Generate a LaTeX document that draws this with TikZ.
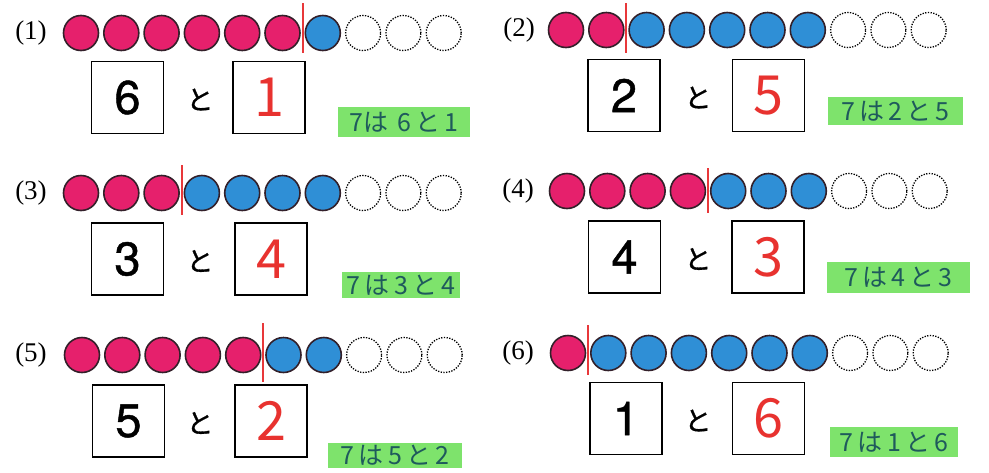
\documentclass[tikz,border=0pt]{standalone}
\usepackage{fontspec}
\setmainfont{Liberation Serif}
\newfontfamily\jpfont{Noto Sans CJK JP}
\newfontfamily\jpbold[FakeBold=1.2]{Noto Sans CJK JP}
\newfontfamily\boxdigits[FakeBold=1.0]{TeX Gyre Heros}

\definecolor{beadpink}{HTML}{E6206C}
\definecolor{beadblue}{HTML}{2F8FD6}
\definecolor{beadline}{HTML}{33202A}
\definecolor{cutred}{HTML}{E8383A}
\definecolor{answerred}{HTML}{E8322F}
\definecolor{marker}{HTML}{7EE36C}
\definecolor{inkteal}{HTML}{1F5A5C}

\begin{document}
\begin{tikzpicture}[x=1pt,y=-1pt,
  beadbase/.style={circle, inner sep=0pt, minimum size=35pt},
  pinkbead/.style={beadbase, draw=beadline, line width=1.6pt, fill=beadpink},
  bluebead/.style={beadbase, draw=beadline, line width=1.6pt, fill=beadblue},
  emptybead/.style={beadbase, draw=black, line width=1.3pt, dash pattern=on 1.3pt off 1.4pt},
  cutline/.style={draw=cutred, line width=2pt},
  answerbox/.style={draw=black, line width=1.5pt, minimum width=72pt, minimum height=72pt, inner sep=0pt},
  givennum/.style={font=\boxdigits\fontsize{47}{47}\selectfont, text=black},
  answernum/.style={font=\jpfont\fontsize{54}{54}\selectfont, text=answerred},
  tojoin/.style={font=\jpbold\fontsize{27}{27}\selectfont},
  qlabel/.style={font=\fontsize{27}{27}\selectfont},
  notebox/.style={fill=marker, inner sep=0pt, text=inkteal, font=\jpfont\fontsize{25}{25}\selectfont}
]
\useasboundingbox (0,0) rectangle (989,472);
\fill[white] (0,0) rectangle (989,472);

% one exercise per entry:
% id / label x / bead row y / first bead x / pink count / given / answer /
% box1 x / box2 x / box y / "to" x / note x / note y / note w / note h / note / cut above / cut below
\foreach \n/\lx/\ry/\cx/\np/\ga/\gb/\bxa/\bxb/\by/\tx/\gx/\gy/\gw/\gh/\note/\dt/\db in {
  1/31/33/81/6/6/1/127.5/269/97.5/200/404/122/132/30/{7は\,\,6\,と\,1}/30/20,
  2/519/30/566/2/2/5/624/768.5/95.5/698/895.5/111/135/28/{7\,は\,2\,と\,5}/27/23,
  3/31/193/81/3/3/4/127.5/271/259/200/401/285/118/26/{7\,は\,3\,と\,4}/28/22,
  4/518/191/567/4/4/3/624.5/768/257/698/898.5/277.5/143/31/{7\,は\,4\,と\,3}/23/22,
  5/31/355/82/5/5/2/128.5/271/421/200/395/455.5/134/25/{7\,は\,5\,と\,2}/32/27,
  6/518/353/568/1/1/6/626/768.5/418.5/698/894/442/128/30/{7\,は\,1\,と\,6}/28/22}
{
  \node[qlabel] (label-\n) at (\lx,\ry) {(\n)};
  % ten beads: pink, then blue up to seven, then empty
  \foreach \i in {1,...,10} {
    \ifnum\i>7
      \node[emptybead] (bead-\n-\i) at ({\cx+40.3*(\i-1)},\ry) {};
    \else\ifnum\i>\np
      \node[bluebead] (bead-\n-\i) at ({\cx+40.3*(\i-1)},\ry) {};
    \else
      \node[pinkbead] (bead-\n-\i) at ({\cx+40.3*(\i-1)},\ry) {};
    \fi\fi
  }
  % red cut mark between the pink and blue beads
  \coordinate (cuttop-\n) at ({\cx+40.3*(\np-0.5)},{\ry-\dt});
  \coordinate (cutbot-\n) at ({\cx+40.3*(\np-0.5)},{\ry+\db});
  \draw[cutline] (cuttop-\n) -- (cutbot-\n);
  % the two boxes
  \node[answerbox] (given-\n) at (\bxa,\by) {};
  \node[givennum] at (given-\n.center) {\ga};
  \node[tojoin] (to-\n) at (\tx,{\by+2}) {と};
  \node[answerbox] (answer-\n) at (\bxb,\by) {};
  \node[answernum] at (answer-\n.center) {\gb};
  % highlighted note
  \node[notebox, minimum width=\gw pt, minimum height=\gh pt] (note-\n) at (\gx,\gy) {\note};
}
\end{tikzpicture}
\end{document}
